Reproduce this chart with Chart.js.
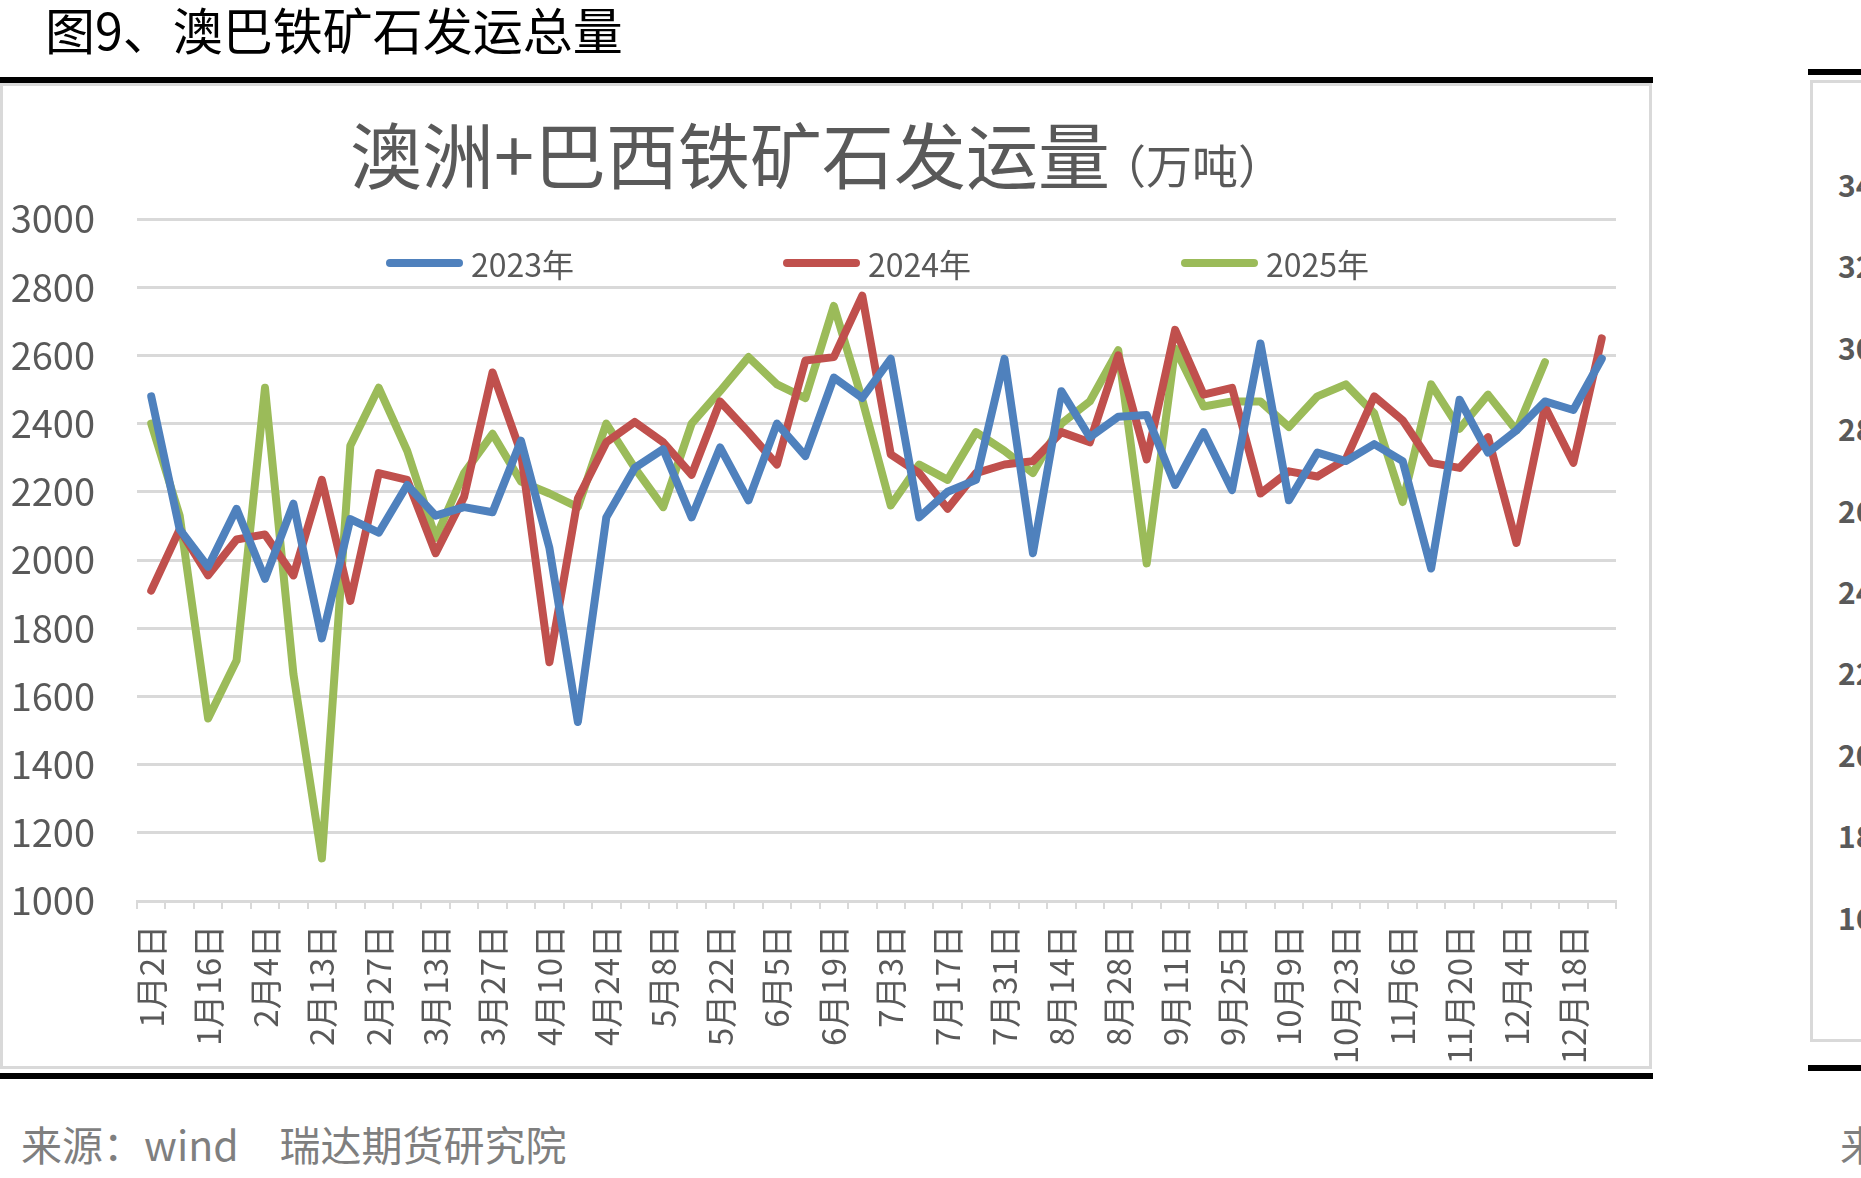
<!DOCTYPE html>
<html lang="zh">
<head>
<meta charset="utf-8">
<title>澳巴铁矿石发运总量</title>
<script src="https://cdn.jsdelivr.net/npm/chart.js@4.4.1/dist/chart.umd.min.js"></script>
<style>
  html, body { margin: 0; padding: 0; background: #fff; }
  body {
    width: 1861px; height: 1178px; position: relative; overflow: hidden;
    font-family: "Noto Sans CJK SC", "Noto Sans", sans-serif;
    text-spacing-trim: space-all;
  }
  .abs { position: absolute; white-space: nowrap; }
  .rule { background: #000; height: 6px; }
  #page-title { left: 45px; top: -1px; font-size: 50px; line-height: 58px; color: #000; }
  #box { left: 0; top: 83px; width: 1652px; height: 986px; border: 3px solid #d9d9d9; box-sizing: border-box; }
  #wrap { left: 0; top: 83px; width: 1652px; height: 984px; }
  #chart-title { left: 350px; top: 110px; color: #595959; line-height: 84px; }
  #chart-title .main { font-size: 72px; }
  #chart-title .unit { font-size: 46px; margin-left: -10px; }
  .swatch { height: 8px; border-radius: 4px; top: 259px; width: 77px; }
  .legend-text { top: 245px; font-size: 32px; line-height: 36px; color: #595959; }
  #source { left: 21px; top: 1118px; font-size: 41px; line-height: 50px; color: #7f7f7f; }
  #next-box { left: 1810px; top: 80px; width: 80px; height: 962px; border: 3px solid #d9d9d9; box-sizing: border-box; }
  .next-tick { left: 1838px; font-size: 30px; font-weight: bold; line-height: 34px; color: #595959; }
</style>
</head>
<body>
<div id="page-title" class="abs">图9、澳巴铁矿石发运总量</div>
<div class="abs rule" style="left:0; top:77px; width:1653px;"></div>
<div id="box" class="abs"></div>
<div id="wrap" class="abs"><canvas id="shipChart"></canvas></div>
<div id="chart-title" class="abs"><span class="main">澳洲+巴西铁矿石发运量</span><span class="unit">（万吨）</span></div>
<div id="legend"></div>
<div class="abs rule" style="left:0; top:1073px; width:1653px;"></div>
<div id="source" class="abs">来源：wind　瑞达期货研究院</div>

<!-- edge of the next chart on the page -->
<div class="abs rule" style="left:1808px; top:69px; width:60px;"></div>
<div id="next-box" class="abs"></div>
<div id="next-ticks"></div>
<div class="abs rule" style="left:1808px; top:1065px; width:60px;"></div>
<div class="abs" style="left:1840px; top:1118px; font-size:41px; line-height:50px; color:#7f7f7f;">来源</div>

<script>
// shortcut
const $ = id => document.getElementById(id);

// weekly categories (every other one is labelled)
const weeks = [
  '1月2日', '1月9日', '1月16日', '1月23日', '2月4日', '2月6日', '2月13日', '2月20日',
  '2月27日', '3月6日', '3月13日', '3月20日', '3月27日', '4月3日', '4月10日', '4月17日',
  '4月24日', '5月1日', '5月8日', '5月15日', '5月22日', '5月29日', '6月5日', '6月12日',
  '6月19日', '6月26日', '7月3日', '7月10日', '7月17日', '7月24日', '7月31日', '8月7日',
  '8月14日', '8月21日', '8月28日', '9月4日', '9月11日', '9月18日', '9月25日', '10月2日',
  '10月9日', '10月16日', '10月23日', '10月30日', '11月6日', '11月13日', '11月20日', '11月27日',
  '12月4日', '12月11日', '12月18日', '12月25日'
];

// 万吨
const ship2023 = [
  2480, 2090, 1980, 2150, 1945, 2165, 1770, 2120, 2080, 2220, 2130, 2155, 2140,
  2350, 2035, 1525, 2125, 2270, 2325, 2125, 2330, 2175, 2400, 2305, 2535, 2475,
  2590, 2125, 2200, 2235, 2590, 2020, 2495, 2360, 2420, 2425, 2220, 2375, 2205,
  2635, 2175, 2315, 2290, 2340, 2290, 1975, 2470, 2315, 2380, 2465, 2440, 2590
];
const ship2024 = [
  1910, 2090, 1955, 2060, 2075, 1955, 2235, 1880, 2255, 2235, 2020, 2185, 2550,
  2315, 1700, 2180, 2345, 2405, 2345, 2250, 2465, 2375, 2280, 2585, 2595, 2775,
  2310, 2255, 2150, 2255, 2280, 2290, 2375, 2345, 2600, 2295, 2675, 2485, 2505,
  2195, 2260, 2245, 2295, 2480, 2410, 2285, 2270, 2360, 2050, 2450, 2285, 2650
];
const ship2025 = [
  2400, 2130, 1535, 1705, 2505, 1665, 1125, 2335, 2505, 2320, 2065, 2255, 2370,
  2230, 2195, 2155, 2400, 2270, 2155, 2400, 2495, 2595, 2515, 2475, 2745, 2470,
  2160, 2280, 2235, 2375, 2320, 2255, 2400, 2465, 2615, 1990, 2620, 2450, 2465,
  2465, 2390, 2480, 2515, 2430, 2170, 2515, 2385, 2485, 2380, 2580, null, null
];

const seriesNames = ['2023年', '2024年', '2025年'];
const seriesColors = ['#4f81bd', '#c0504d', '#9bbb59'];

// y ticks of the neighbouring chart (cut off by the page edge)
const nextTicks = [3400, 3200, 3000, 2800, 2600, 2400, 2200, 2000, 1800, 1600];

const GRID = '#d9d9d9';
const TEXT = '#595959';

Chart.defaults.font.family = '"Noto Sans CJK SC", "Noto Sans", sans-serif';
Chart.defaults.color = TEXT;

const makeSet = (data, i) => ({
  label: seriesNames[i],
  data: data,
  borderColor: seriesColors[i],
  backgroundColor: seriesColors[i],
  borderWidth: 8,
  borderJoinStyle: 'round',
  borderCapStyle: 'round',
  pointRadius: 0,
  pointHoverRadius: 0,
  tension: 0,
  spanGaps: false
});

new Chart($('shipChart'), {
  type: 'line',
  data: {
    labels: weeks,
    datasets: [ship2023, ship2024, ship2025].map(makeSet)
  },
  options: {
    responsive: true,
    maintainAspectRatio: false,
    animation: false,
    layout: { padding: { top: 136, right: 36, left: 0, bottom: 0 } },
    plugins: {
      legend: { display: false },
      tooltip: { enabled: false }
    },
    scales: {
      x: {
        offset: true,
        afterFit: s => {
          s.height = 166;
          s.paddingLeft = 0;
          s.paddingRight = 0;
        },
        grid: { display: true, offset: true, drawOnChartArea: false, drawTicks: true, tickLength: 8, color: GRID, lineWidth: 2 },
        border: { display: true, color: GRID, width: 3 },
        ticks: {
          autoSkip: false,
          minRotation: 90,
          maxRotation: 90,
          padding: 16,
          font: { size: 33 },
          color: TEXT,
          callback: (v, i) => (i % 2 === 0 ? weeks[i] : '')
        }
      },
      y: {
        min: 1000,
        max: 3000,
        afterFit: s => { s.width = 137; },
        grid: { color: GRID, lineWidth: 3, drawTicks: false },
        border: { display: false },
        ticks: {
          stepSize: 200,
          padding: 42,
          font: { size: 38 },
          color: TEXT,
          callback: v => String(v)
        }
      }
    }
  }
});

// legend drawn as page elements, inside the plot area
const legendX = [386, 783, 1181];
seriesNames.forEach((name, i) => {
  const sw = document.createElement('div');
  sw.className = 'abs swatch';
  sw.style.left = legendX[i] + 'px';
  sw.style.background = seriesColors[i];
  document.body.appendChild(sw);
  const tx = document.createElement('div');
  tx.className = 'abs legend-text';
  tx.style.left = (legendX[i] + 85) + 'px';
  tx.textContent = name;
  document.body.appendChild(tx);
});

nextTicks.forEach((t, i) => {
  const el = document.createElement('div');
  el.className = 'abs next-tick';
  el.style.top = (167 + i * 81.4) + 'px';
  el.textContent = t;
  document.body.appendChild(el);
});
</script>
</body>
</html>
